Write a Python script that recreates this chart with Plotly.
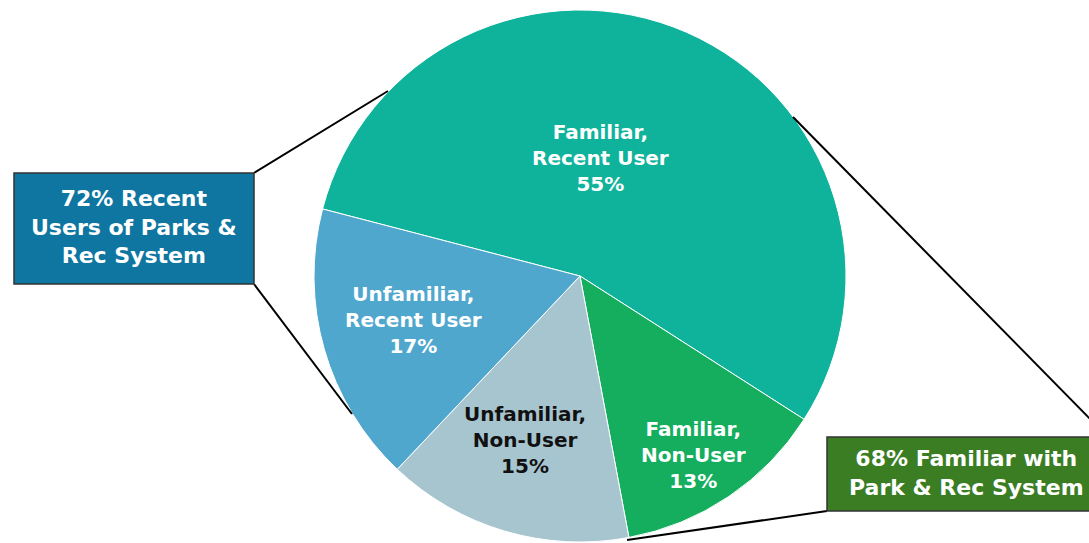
import plotly.graph_objects as go

labels = ["Familiar,<br>Recent User", "Familiar,<br>Non-User",
          "Unfamiliar,<br>Non-User", "Unfamiliar,<br>Recent User"]
values = [55, 13, 15, 17]
colors = ["#0FB39B", "#14AE5E", "#A7C5CF", "#50A7CE"]
text_colors = ["white", "white", "#111111", "white"]

callouts = ["72% Recent<br>Users of Parks &<br>Rec System",
            "68% Familiar with<br>Park & Rec System"]

W, H = 1089, 543
FONT = "DejaVu Sans"


def px(x):
    return x / W


def py(y):
    return 1 - y / H


fig = go.Figure()

fig.add_trace(
    go.Pie(
        labels=labels,
        values=values,
        sort=False,
        direction="clockwise",
        rotation=284.6,
        marker=dict(colors=colors, line=dict(color="white", width=1)),
        textinfo="none",
        hoverinfo="label+percent",
        showlegend=False,
        domain=dict(x=[px(314), px(846)], y=[py(542), py(10)]),
    )
)

# label positions inside slices (pixel coords)
label_pos = [(600, 158), (693, 455), (525, 440), (413, 320)]
for lab, val, col, (x, y) in zip(labels, values, text_colors, label_pos):
    fig.add_annotation(
        x=px(x), y=py(y), xref="paper", yref="paper",
        xanchor="center", yanchor="middle",
        text=f"<b>{lab}<br>{val}%</b>", showarrow=False,
        font=dict(family=FONT, size=20, color=col),
    )

# connector lines
line_style = dict(color="black", width=2)
for x0, y0, x1, y1 in [(254, 173, 388, 91), (254, 284, 352, 414),
                       (793, 117, 1100, 429), (827, 511, 627, 540)]:
    fig.add_shape(type="line", xref="paper", yref="paper",
                  x0=px(x0), y0=py(y0), x1=px(x1), y1=py(y1), line=line_style)

# callout boxes
boxes = [((14, 173, 254, 284), "#0E76A0", (134, 227)),
         ((827, 437, 1110, 511), "#3A7D23", (966, 473))]
for ((x0, y0, x1, y1), fill, (tx, ty)), txt in zip(boxes, callouts):
    fig.add_shape(type="rect", xref="paper", yref="paper",
                  x0=px(x0), y0=py(y0), x1=px(x1), y1=py(y1),
                  fillcolor=fill, line=dict(color="#333333", width=1.5))
    fig.add_annotation(
        x=px(tx), y=py(ty), xref="paper", yref="paper",
        xanchor="center", yanchor="middle",
        text=f"<b>{txt}</b>", showarrow=False,
        font=dict(family=FONT, size=22, color="white"),
    )

fig.update_layout(
    width=W, height=H,
    margin=dict(l=0, r=0, t=0, b=0),
    paper_bgcolor="white",
)

fig.write_html("out.html", config={"displayModeBar": False},
               post_script="document.body.style.margin='0';")
